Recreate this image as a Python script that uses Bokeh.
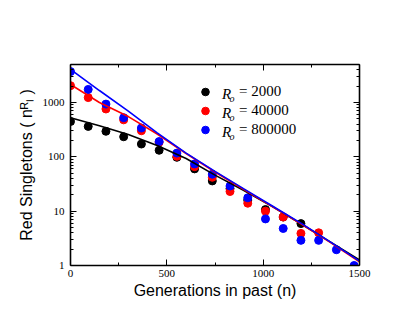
from bokeh.plotting import figure
from bokeh.models import (Range1d, LogAxis, LinearAxis, FixedTicker, Label, Legend,
                          LegendItem, PrintfTickFormatter, CustomLabelingPolicy)
from bokeh.embed import file_html
from bokeh.resources import INLINE

# ---- data ----
generations = [0, 92, 184, 276, 368, 460, 552, 644, 736, 828, 920, 1012, 1104, 1196, 1288, 1380, 1472]
singletons_2000 = [447, 363, 295, 234, 172, 132, 98, 60, 36, 26, 16, 10.7, 7.8, 5.9]
singletons_40000 = [2040, 1230, 759, 479, 302, 185, 102, 66, 42, 23, 14, 10, 7.8, 3.9, 4.0]
singletons_800000 = [3700, 1740, 933, 525, 339, 191, 117, 74, 48, 29, 17.6, 7.2, 4.8, 2.9, 2.9, 1.95, 1.0]

fit_generations = [0, 150, 300, 450, 600, 750, 900, 1050, 1200, 1350, 1500]
fit_2000 = [525, 372, 257, 162, 93, 46, 24, 12.0, 5.75, 2.7, 1.26]
fit_40000 = [2140, 1000, 550, 263, 115, 52.5, 25.1, 12.0, 5.75, 2.63, 1.17]
fit_800000 = [4070, 1660, 692, 275, 117, 54, 25.7, 12.3, 5.9, 2.7, 1.2]

legend_values = ["= 2000", "= 40000", "= 800000"]
colors = ["black", "#ff0000", "#0000ff"]

x_major = [0, 500, 1000, 1500]
x_minor = [250, 750, 1250]
y_major = [1, 10, 100, 1000]
y_minor = [m * d for d in (1, 10, 100, 1000) for m in range(2, 10) if m * d <= 5000]

W, H = 410, 315
p = figure(width=W, height=H, x_range=Range1d(0, 1500), y_range=Range1d(1, 5000),
           y_axis_type="log", output_backend="svg", toolbar_location=None,
           min_border_left=70, min_border_right=51, min_border_top=64, min_border_bottom=50)
p.grid.visible = False
p.outline_line_color = None
p.background_fill_color = "white"
p.border_fill_color = "white"

xa = p.below[0]
ya = p.left[0]

xt = FixedTicker(ticks=x_major, minor_ticks=x_minor)
yt = FixedTicker(ticks=y_major, minor_ticks=y_minor)
xa.ticker = xt
ya.ticker = yt
ya.formatter = PrintfTickFormatter(format="%d")

top = LinearAxis(ticker=xt, major_label_policy=CustomLabelingPolicy(code="return new Set()"))
right = LogAxis(ticker=yt, major_label_policy=CustomLabelingPolicy(code="return new Set()"))
p.add_layout(top, "above")
p.add_layout(right, "right")

for ax in [xa, ya, top, right]:
    ax.axis_line_width = 1.6
    ax.axis_line_color = "black"
    ax.major_tick_in = 6
    ax.major_tick_out = 0
    ax.minor_tick_in = 3
    ax.minor_tick_out = 0
    ax.major_tick_line_color = "black"
    ax.minor_tick_line_color = "black"
    ax.major_tick_line_width = 1
    ax.minor_tick_line_width = 1
    ax.major_label_text_font = "Liberation Serif"
    ax.major_label_text_font_size = "11px"
    ax.major_label_text_color = "black"
for ax in [top, right]:
    ax.major_label_standoff = 0
xa.major_label_standoff = 4
ya.major_label_standoff = 6

xa.axis_label = "Generations in past (n)"
xa.axis_label_text_font = "Liberation Sans"
xa.axis_label_text_font_style = "normal"
xa.axis_label_text_font_size = "16px"
xa.axis_label_text_color = "black"
xa.axis_label_standoff = 2

ya.axis_label = "Red Singletons ( n\u1d3f\u2097 )"
ya.axis_label_text_font = "Liberation Sans"
ya.axis_label_text_font_style = "normal"
ya.axis_label_text_font_size = "16px"
ya.axis_label_text_color = "black"
ya.axis_label_standoff = 5

sets = [(singletons_2000, fit_2000), (singletons_40000, fit_40000), (singletons_800000, fit_800000)]
scat = []
for (vals, fit), c in zip(sets, colors):
    r = p.scatter(generations[:len(vals)], vals, size=8, color=c)
    scat.append(r)
for (vals, fit), c in zip(sets, colors):
    p.line(fit_generations, fit, line_color=c, line_width=1.6)

legend = Legend(items=[LegendItem(label=t, renderers=[r]) for t, r in zip(legend_values, scat)],
                location=(125, 126), orientation="vertical")
legend.glyph_width = 20
legend.glyph_height = 19
legend.label_height = 19
legend.spacing = 0
legend.padding = 0
legend.margin = 0
legend.label_standoff = 24
legend.border_line_color = None
legend.background_fill_alpha = 0
legend.label_text_font = "Liberation Serif"
legend.label_text_font_size = "15px"
legend.label_text_color = "black"
p.add_layout(legend)

# screen units of Label are measured from the frame's bottom-left corner
FRAME_LEFT, FRAME_BOTTOM = 70, 265

def fy(page_y):
    return FRAME_BOTTOM - page_y

def fx(page_x):
    return page_x - FRAME_LEFT

# legend symbol R_o
for i in range(3):
    base = 93.5 + 19 * i
    p.add_layout(Label(x=fx(221.5), y=fy(base), x_units="screen", y_units="screen", text="R",
                       text_font="Liberation Serif", text_font_style="italic", text_font_size="15px",
                       text_color="black", text_baseline="alphabetic"))
    p.add_layout(Label(x=fx(229), y=fy(base + 4.5), x_units="screen", y_units="screen", text="o",
                       text_font="Liberation Serif", text_font_style="italic", text_font_size="10px",
                       text_color="black", text_baseline="alphabetic"))

open("out.html", "w").write(file_html(p, INLINE))
